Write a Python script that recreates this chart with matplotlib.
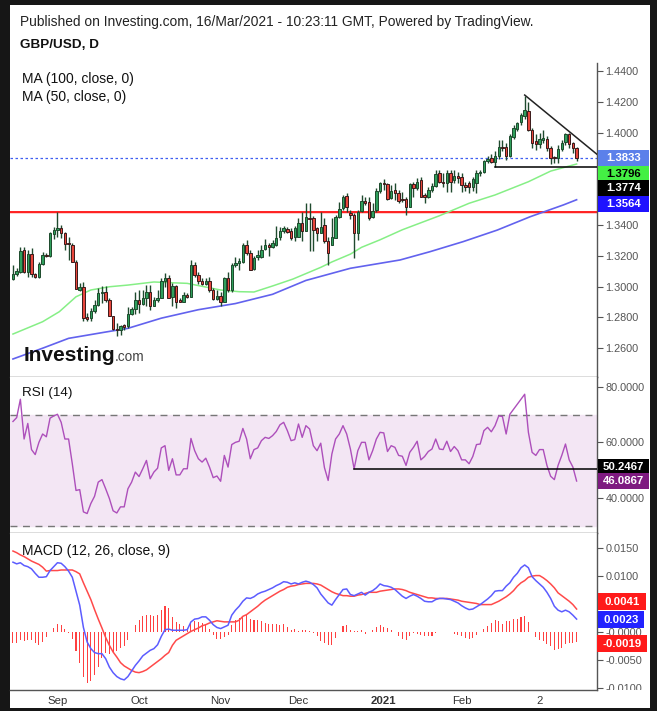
import numpy as np
import pandas as pd
import matplotlib
matplotlib.use("Agg")
import matplotlib.pyplot as plt
from matplotlib.patches import Rectangle
from matplotlib.ticker import FuncFormatter
from matplotlib.transforms import Bbox, TransformedBbox

plt.rcParams['font.family'] = ['Liberation Sans', 'DejaVu Sans']

# ---------------- data ----------------
start_date = '2020-08-14'
opens = [1.3050, 1.3080, 1.3098, 1.3238, 1.3094, 1.3212, 1.3080, 1.3061, 1.3147, 1.3206,
         1.3197, 1.3340, 1.3368, 1.3379, 1.3346, 1.3281, 1.3270, 1.3163, 1.2979, 1.2996,
         1.2800, 1.2795, 1.2843, 1.2882, 1.2957, 1.2968, 1.2914, 1.2806, 1.2724, 1.2720,
         1.2752, 1.2741, 1.2823, 1.2853, 1.2914, 1.2886, 1.2925, 1.2968, 1.2871, 1.2914,
         1.2925, 1.3039, 1.3058, 1.2931, 1.3005, 1.2914, 1.2903, 1.2946, 1.2935, 1.3141,
         1.3076, 1.3037, 1.3017, 1.3037, 1.2979, 1.2918, 1.2940, 1.2903, 1.3054, 1.2979,
         1.3141, 1.3155, 1.3157, 1.3271, 1.3217, 1.3113, 1.3189, 1.3191, 1.3243, 1.3271,
         1.3256, 1.3271, 1.3321, 1.3358, 1.3375, 1.3358, 1.3325, 1.3325, 1.3416, 1.3364,
         1.3444, 1.3444, 1.3379, 1.3351, 1.3401, 1.3297, 1.3271, 1.3314, 1.3455, 1.3509,
         1.3589, 1.3481, 1.3466, 1.3350, 1.3492, 1.3557, 1.3552, 1.3450, 1.3498, 1.3623,
         1.3671, 1.3665, 1.3574, 1.3628, 1.3610, 1.3569, 1.3567, 1.3520, 1.3667, 1.3639,
         1.3692, 1.3595, 1.3585, 1.3628, 1.3654, 1.3736, 1.3682, 1.3671, 1.3736, 1.3692,
         1.3719, 1.3709, 1.3661, 1.3672, 1.3650, 1.3672, 1.3739, 1.3743, 1.3817, 1.3834,
         1.3812, 1.3845, 1.3909, 1.3909, 1.3849, 1.3974, 1.4024, 1.4067, 1.4110, 1.4141,
         1.4017, 1.3946, 1.3925, 1.3953, 1.3959, 1.3899, 1.3842, 1.3834, 1.3894, 1.3937,
         1.3989, 1.3931, 1.3899]
highs = [1.3141, 1.3119, 1.3256, 1.3260, 1.3238, 1.3249, 1.3087, 1.3163, 1.3227, 1.3215,
         1.3357, 1.3389, 1.3482, 1.3400, 1.3357, 1.3325, 1.3281, 1.3173, 1.3022, 1.3033,
         1.2828, 1.2860, 1.2914, 1.2990, 1.3001, 1.3001, 1.2925, 1.2810, 1.2763, 1.2752,
         1.2760, 1.2870, 1.2870, 1.2968, 1.2979, 1.2979, 1.3011, 1.3011, 1.2931, 1.2979,
         1.3054, 1.3087, 1.3076, 1.3022, 1.3011, 1.2925, 1.2968, 1.2957, 1.3173, 1.3162,
         1.3097, 1.3054, 1.3054, 1.3065, 1.2990, 1.2979, 1.2968, 1.3065, 1.3097, 1.3152,
         1.3195, 1.3185, 1.3282, 1.3304, 1.3239, 1.3196, 1.3239, 1.3271, 1.3308, 1.3282,
         1.3304, 1.3394, 1.3390, 1.3394, 1.3390, 1.3379, 1.3394, 1.3444, 1.3487, 1.3541,
         1.3546, 1.3460, 1.3390, 1.3483, 1.3444, 1.3325, 1.3444, 1.3466, 1.3552, 1.3595,
         1.3606, 1.3500, 1.3480, 1.3500, 1.3595, 1.3585, 1.3585, 1.3540, 1.3639, 1.3682,
         1.3697, 1.3671, 1.3660, 1.3671, 1.3628, 1.3617, 1.3585, 1.3671, 1.3682, 1.3703,
         1.3714, 1.3606, 1.3645, 1.3671, 1.3757, 1.3757, 1.3736, 1.3757, 1.3757, 1.3757,
         1.3746, 1.3735, 1.3680, 1.3685, 1.3710, 1.3757, 1.3760, 1.3825, 1.3850, 1.3860,
         1.3880, 1.3950, 1.3950, 1.3930, 1.3990, 1.4050, 1.4070, 1.4130, 1.4240, 1.4200,
         1.4030, 1.3990, 1.4000, 1.4020, 1.3975, 1.3910, 1.3850, 1.3920, 1.3950, 1.4000,
         1.4000, 1.3940, 1.3905]
lows = [1.3044, 1.3072, 1.3087, 1.3087, 1.3065, 1.3065, 1.3055, 1.3055, 1.3141, 1.3190,
        1.3195, 1.3307, 1.3325, 1.3314, 1.3238, 1.3173, 1.3163, 1.2983, 1.2970, 1.2774,
        1.2774, 1.2774, 1.2828, 1.2871, 1.2893, 1.2903, 1.2806, 1.2720, 1.2677, 1.2687,
        1.2720, 1.2730, 1.2817, 1.2823, 1.2827, 1.2881, 1.2871, 1.2849, 1.2871, 1.2903,
        1.2925, 1.3000, 1.2925, 1.2871, 1.2860, 1.2898, 1.2897, 1.2925, 1.2931, 1.3065,
        1.3017, 1.3011, 1.3011, 1.2968, 1.2914, 1.2914, 1.2871, 1.2903, 1.2968, 1.2968,
        1.3130, 1.3109, 1.3152, 1.3206, 1.3109, 1.3109, 1.3174, 1.3185, 1.3239, 1.3196,
        1.3250, 1.3265, 1.3304, 1.3351, 1.3347, 1.3304, 1.3293, 1.3321, 1.3293, 1.3358,
        1.3228, 1.3228, 1.3293, 1.3347, 1.3282, 1.3142, 1.3271, 1.3314, 1.3444, 1.3498,
        1.3487, 1.3440, 1.3188, 1.3300, 1.3487, 1.3530, 1.3433, 1.3444, 1.3487, 1.3606,
        1.3628, 1.3563, 1.3567, 1.3563, 1.3546, 1.3552, 1.3466, 1.3516, 1.3585, 1.3628,
        1.3585, 1.3541, 1.3574, 1.3617, 1.3649, 1.3671, 1.3649, 1.3617, 1.3617, 1.3671,
        1.3671, 1.3617, 1.3620, 1.3605, 1.3620, 1.3607, 1.3720, 1.3735, 1.3800, 1.3800,
        1.3774, 1.3830, 1.3880, 1.3825, 1.3840, 1.3960, 1.4010, 1.4050, 1.4090, 1.4010,
        1.3900, 1.3890, 1.3900, 1.3930, 1.3880, 1.3795, 1.3800, 1.3800, 1.3880, 1.3920,
        1.3900, 1.3870, 1.3815]
closes = [1.3080, 1.3102, 1.3232, 1.3094, 1.3212, 1.3080, 1.3061, 1.3147, 1.3206, 1.3197,
          1.3351, 1.3368, 1.3379, 1.3346, 1.3275, 1.3277, 1.3163, 1.2983, 1.2996, 1.2795,
          1.2791, 1.2843, 1.2882, 1.2957, 1.2968, 1.2914, 1.2806, 1.2724, 1.2720, 1.2746,
          1.2737, 1.2823, 1.2853, 1.2914, 1.2886, 1.2925, 1.2968, 1.2871, 1.2914, 1.2925,
          1.3039, 1.3058, 1.2929, 1.3005, 1.2903, 1.2903, 1.2946, 1.2935, 1.3141, 1.3076,
          1.3037, 1.3017, 1.3037, 1.2979, 1.2918, 1.2940, 1.2903, 1.3054, 1.2979, 1.3141,
          1.3155, 1.3164, 1.3271, 1.3217, 1.3109, 1.3185, 1.3206, 1.3239, 1.3271, 1.3256,
          1.3282, 1.3314, 1.3358, 1.3379, 1.3353, 1.3314, 1.3379, 1.3412, 1.3364, 1.3450,
          1.3437, 1.3368, 1.3351, 1.3390, 1.3293, 1.3217, 1.3321, 1.3455, 1.3502, 1.3584,
          1.3520, 1.3466, 1.3350, 1.3487, 1.3557, 1.3546, 1.3444, 1.3494, 1.3621, 1.3671,
          1.3665, 1.3567, 1.3623, 1.3606, 1.3559, 1.3563, 1.3516, 1.3667, 1.3639, 1.3682,
          1.3585, 1.3585, 1.3628, 1.3654, 1.3731, 1.3682, 1.3671, 1.3736, 1.3682, 1.3719,
          1.3703, 1.3661, 1.3650, 1.3644, 1.3698, 1.3737, 1.3741, 1.3817, 1.3829, 1.3812,
          1.3845, 1.3907, 1.3899, 1.3845, 1.3981, 1.4028, 1.4061, 1.4115, 1.4147, 1.4017,
          1.3931, 1.3924, 1.3959, 1.3963, 1.3899, 1.3838, 1.3834, 1.3894, 1.3931, 1.3989,
          1.3924, 1.3899, 1.3833]

# moving averages read at sample bars (bar index, value)
ma50_idx = [0, 8, 12.5, 17, 21, 26, 31, 38, 47, 56, 61, 65, 70, 75.5, 83, 86, 91, 94, 99,
            105, 115, 123, 130, 139, 145, 152]
ma50_val = [1.2692, 1.2772, 1.2837, 1.2934, 1.2978, 1.2999, 1.3010, 1.3030, 1.3021, 1.2978,
            1.2967, 1.2965, 1.3004, 1.3049, 1.3125, 1.3160, 1.3211, 1.3255, 1.3304,
            1.3369, 1.3460, 1.3541, 1.3595, 1.3681, 1.3750, 1.3796]
ma100_idx = [0, 8, 15, 25, 31, 40, 50, 60, 70, 79, 91, 104.4, 112.5, 121.4, 130.6, 139.5,
             148.4, 152]
ma100_val = [1.2530, 1.2600, 1.2664, 1.2705, 1.2729, 1.2795, 1.2850, 1.2890, 1.2950, 1.3040,
             1.3119, 1.3173, 1.3227, 1.3292, 1.3367, 1.3454, 1.3530, 1.3564]

resistance = 1.3482
support = 1.3774
support_start = 130
trend_x = [138, 157.5]
trend_y = [1.4244, 1.3859]

rsi = [67.5, 68.9, 75.5, 61.2, 66.8, 57.4, 55.6, 60.0, 63.0, 62.0,
       68.7, 69.5, 70.1, 67.2, 61.2, 61.2, 52.3, 42.7, 43.0, 35.0,
       34.4, 38.0, 40.6, 45.7, 46.6, 43.3, 39.8, 35.4, 34.6, 36.8,
       36.8, 43.3, 45.7, 49.3, 47.7, 50.5, 53.5, 46.9, 49.3, 50.7,
       58.0, 58.8, 49.9, 54.1, 48.3, 48.3, 50.5, 50.5, 61.4, 57.0,
       54.1, 52.9, 54.3, 51.1, 47.3, 47.9, 46.0, 55.3, 51.1, 59.2,
       60.0, 60.4, 65.0, 61.2, 54.1, 57.4, 58.0, 60.6, 61.8, 61.4,
       62.4, 63.9, 66.3, 67.2, 64.2, 60.6, 61.0, 66.6, 61.8, 66.0,
       64.8, 58.8, 57.0, 59.7, 50.9, 46.3,
       55.8, 61.2, 63.0, 66.0, 63.0, 57.6, 50.5, 57.0, 60.0, 60.0,
       53.7, 57.0, 61.2, 63.6, 63.4, 56.7, 58.8, 58.2, 55.3, 55.0,
       51.7, 56.4, 58.2, 60.4, 53.7, 54.9, 56.7, 57.6, 61.2, 57.6,
       57.4, 60.4, 56.7, 58.5, 57.0, 53.7, 53.7, 52.3, 54.9, 59.2,
       59.4, 64.2, 65.4, 63.8, 66.0, 69.5, 69.3, 63.0, 70.1, 71.9,
       73.7, 75.5, 77.3, 63.6, 56.4, 55.3, 57.4, 57.4, 51.7, 47.8,
       46.6, 51.7, 55.3, 59.4, 53.7, 51.1, 46.0867]
rsi_level = 50.2467
rsi_level_start = 92

macd = [.0125, .0122, .0124, .0119, .0117, .0113, .0105, .0098, .0098, .0099,
        .0110, .0117, .0124, .0123, .0117, .0109, .0098, .0073, .0048, .0008,
        -.0018, -.0030, -.0037, -.0039, -.0039, -.0048, -.0063, -.0073, -.0080, -.0084,
        -.0086, -.0080, -.0070, -.0060, -.0052, -.0043, -.0038, -.0033, -.0030, -.0023,
        -.0008, .0004, .0005, .0003, .0003, .0003, .0003, .0004, .0018, .0023,
        .0024, .0027, .0027, .0021, .0013, .0008, .0006, .0009, .0012, .0030,
        .0039, .0046, .0055, .0061, .0060, .0063, .0068, .0071, .0073, .0076,
        .0079, .0083, .0086, .0090, .0089, .0086, .0088, .0086, .0089, .0091,
        .0089, .0085, .0079, .0068, .0060, .0052, .0048, .0058, .0067, .0076,
        .0077, .0067, .0065, .0068, .0071, .0066, .0071, .0074, .0079, .0086,
        .0083, .0082, .0080, .0076, .0070, .0064, .0060, .0064, .0067, .0064,
        .0060, .0055, .0054, .0054, .0058, .0060, .0060, .0059, .0058, .0055,
        .0052, .0047, .0043, .0040, .0041, .0045, .0049, .0054, .0059, .0065,
        .0073, .0074, .0074, .0082, .0088, .0098, .0105, .0115, .0120, .0115,
        .0099, .0092, .0086, .0080, .0071, .0060, .0046, .0039, .0036, .0039,
        .0036, .0030, .0023]
signal = [.0145, .0142, .0138, .0135, .0131, .0127, .0124, .0121, .0116, .0109,
          .0110, .0110, .0110, .0111, .0111, .0111, .0111, .0108, .0104, .0088,
          .0073, .0058, .0040, .0023, .0007, -.0010, -.0024, -.0036, -.0045, -.0055,
          -.0061, -.0065, -.0069, -.0072, -.0073, -.0071, -.0068, -.0063, -.0058, -.0053,
          -.0048, -.0042, -.0037, -.0024, -.0015, -.0011, -.0007, -.0003, .0001, .0004,
          .0007, .0011, .0013, .0016, .0018, .0020, .0019, .0018, .0018, .0018,
          .0018, .0021, .0028, .0031, .0036, .0041, .0046, .0052, .0057, .0061,
          .0065, .0069, .0073, .0076, .0080, .0082, .0083, .0085, .0086, .0087,
          .0087, .0087, .0086, .0084, .0080, .0076, .0072, .0069, .0067, .0065,
          .0065, .0064, .0064, .0066, .0067, .0069, .0071, .0071, .0071, .0073,
          .0074, .0075, .0076, .0077, .0077, .0076, .0074, .0071, .0069, .0067,
          .0065, .0063, .0061, .0061, .0060, .0060, .0060, .0060, .0059, .0058,
          .0057, .0055, .0054, .0053, .0052, .0051, .0049, .0049, .0049, .0049,
          .0052, .0055, .0059, .0063, .0068, .0074, .0082, .0088, .0092, .0098,
          .0100, .0101, .0101, .0097, .0092, .0086, .0079, .0070, .0065, .0060,
          .0055, .0049, .0041]
hist_last = -0.0019

price_ticks = [1.26, 1.28, 1.30, 1.32, 1.34, 1.36, 1.38, 1.40, 1.42, 1.44]
price_ticks_hidden = [1.36, 1.38]          # covered by value boxes in the original
rsi_ticks = [40, 60, 80]
macd_ticks = [-0.01, -0.005, 0.0, 0.005, 0.01, 0.015]
macd_ticks_hidden = [0.005]
month_dates = ['2020-09-01', '2020-10-01', '2020-11-02', '2020-12-01', '2021-01-01',
               '2021-02-01', '2021-03-02']
month_labels = ['Sep', 'Oct', 'Nov', 'Dec', '2021', 'Feb', '2']

# ---------------- figure ----------------
W, H = 657, 711
fig = plt.figure(figsize=(W / 100, H / 100), dpi=100, facecolor='#161616')
fig.add_artist(Rectangle((10 / W, 3 / H), 640 / W, 703 / H, transform=fig.transFigure,
                         facecolor='white', edgecolor='none', zorder=0))


def fx(px):
    return px / W


def fy(py):
    return 1 - py / H


def add_ax(top, bottom):
    a = fig.add_axes([fx(10), fy(bottom), (597 - 10) / W, (bottom - top) / H])
    a.set_facecolor('white')
    for s in ['top', 'left']:
        a.spines[s].set_visible(False)
    for s in ['right', 'bottom']:
        a.spines[s].set_color('#555555')
        a.spines[s].set_linewidth(1.0)
    a.set_xlim(-0.8, 157.5)
    a.tick_params(axis='y', right=True, left=False, labelright=True, labelleft=False,
                  direction='out', length=4, width=0.8, color='#555555',
                  labelcolor='#555555', labelsize=7.8, pad=2)
    a.tick_params(axis='x', bottom=False, labelbottom=False)
    return a


def fmt(hidden, zero_text=None):
    def f(v, p):
        if any(abs(v - h) < 1e-9 for h in hidden):
            return ''
        if zero_text is not None and abs(v) < 1e-9:
            return zero_text
        return f'{v:.4f}'
    return FuncFormatter(f)


ax1 = add_ax(63, 377)
ax2 = add_ax(377, 533)
ax3 = add_ax(533, 690)

n = len(closes)
x = np.arange(n)
o = np.array(opens)
c = np.array(closes)
hi = np.array(highs)
lo = np.array(lows)
up = c >= o

# ---- price panel ----
ax1.set_ylim(1.2413, 1.4452)
ax1.set_yticks(price_ticks)
ax1.yaxis.set_major_formatter(fmt(price_ticks_hidden))

ax1.axhline(resistance - 0.0004, color='#ffc4c4', lw=1.2, zorder=1)
ax1.axhline(resistance, color='#ff1010', lw=1.3, zorder=1.5)
ax1.plot(ma100_idx, ma100_val, color='#6262ee', lw=1.2, zorder=1.6)
ax1.plot(ma50_idx, ma50_val, color='#86ef86', lw=1.1, zorder=1.6)
ax1.axhline(c[-1], color='#3f5ff0', lw=0.9, ls=(0, (2, 2)), zorder=1.7)

ax1.vlines(x, lo, hi, color='#1f4a2e', lw=1.0, zorder=2)
body_bottom = np.minimum(o, c)
body_h = np.maximum(np.abs(c - o), 0.00015)
ax1.bar(x, body_h, bottom=body_bottom, width=0.66,
        color=np.where(up, '#2f9f5c', '#e8463c'),
        edgecolor=np.where(up, '#1d4a2c', '#3a1a1a'), linewidth=0.7, zorder=3)

ax1.plot([support_start, 157.5], [support, support], color='black', lw=1.1, zorder=4)
ax1.plot(trend_x, trend_y, color='#222222', lw=1.1, zorder=4)

# ---- RSI panel ----
ax2.set_ylim(27.4, 83.5)
ax2.set_yticks(rsi_ticks)
ax2.yaxis.set_major_formatter(fmt([]))
ax2.axhspan(30, 70, color='#f3e6f4', zorder=0.5)
for lv in (30, 70):
    ax2.axhline(lv, color='#777777', lw=1.0, ls=(0, (5, 4)), zorder=1)
ax2.plot(x, rsi, color='#ad4fbb', lw=1.0, zorder=2)
ax2.plot([rsi_level_start, 157.5], [rsi_level, rsi_level], color='black', lw=1.1, zorder=3)

# ---- MACD panel ----
ax3.set_ylim(-0.01041, 0.01773)
ax3.set_yticks(macd_ticks)
ax3.yaxis.set_major_formatter(fmt(macd_ticks_hidden, zero_text='-0.0000'))
m = np.array(macd)
s = np.array(signal)
hist = m - s
ax3.bar(x, hist, width=0.28, color='#ff4040', zorder=1)
ax3.plot(x, signal, color='#ff4a4a', lw=1.1, zorder=2)
ax3.plot(x, macd, color='#5c5cff', lw=1.1, zorder=3)

# clip the lowest MACD tick label at the panel bottom, as in the original
clip = TransformedBbox(Bbox.from_extents(0, (H - 690) / H, 1, 1), fig.transFigure)
ax3.yaxis.get_major_ticks()[0].label2.set_clip_box(clip)
ax3.yaxis.get_major_ticks()[0].label2.set_clip_on(True)

dates = pd.bdate_range(start_date, periods=n)
tick_pos = dates.get_indexer(pd.to_datetime(month_dates))
ax3.tick_params(axis='x', bottom=True, labelbottom=True, length=0, labelsize=8.2,
                labelcolor='#333333', pad=4.5)
ax3.set_xticks(tick_pos)
ax3.set_xticklabels(month_labels)
for lab in ax3.get_xticklabels():
    if lab.get_text() == '2021':
        lab.set_fontweight('bold')

# ---- right side value boxes ----


def value_box(ax, pos, text, bg, fg, x0=598, x1=649, h=16):
    yd = ax.transData.transform((0, pos))[1]
    fig.add_artist(Rectangle((x0 / W, (yd - h / 2) / H), (x1 - x0) / W, h / H,
                             transform=fig.transFigure, facecolor=bg, edgecolor='none',
                             zorder=5))
    fig.text((x0 + x1) / 2 / W, yd / H, text, ha='center', va='center', color=fg,
             fontsize=8.2, fontweight='bold', zorder=6)


value_box(ax1, 1.3833, f'{c[-1]:.4f}', '#5b80ea', 'white')
value_box(ax1, 1.3730, f'{ma50_val[-1]:.4f}', '#44f044', 'black')
value_box(ax1, 1.3638, f'{support:.4f}', '#000000', 'white')
value_box(ax1, 1.3536, f'{ma100_val[-1]:.4f}', '#1f12ff', 'white')
value_box(ax2, 51.3, f'{rsi_level:.4f}', '#000000', 'white')
value_box(ax2, 46.1, f'{rsi[-1]:.4f}', '#7e1a80', 'white')
value_box(ax3, 0.0054, f'{signal[-1]:.4f}', '#ff1a1a', 'white', x1=646, h=17)
value_box(ax3, 0.0022, f'{macd[-1]:.4f}', '#2222ff', 'white', x1=644, h=17)
value_box(ax3, -0.0021, f'{hist_last:.4f}', '#ff1a1a', 'white', x0=597, x1=647, h=17)

# ---- texts ----
fig.text(fx(20), fy(22), 'Published on Investing.com, 16/Mar/2021 - 10:23:11 GMT, Powered by TradingView.',
         fontsize=9.9, va='center', color='#222222')
fig.text(fx(20), fy(45), 'GBP/USD, D', fontsize=9.7, fontweight='bold', va='center', color='#111111')
fig.text(fx(22), fy(79), 'MA (100, close, 0)', fontsize=10, va='center', color='#111111')
fig.text(fx(22), fy(97), 'MA (50, close, 0)', fontsize=10, va='center', color='#111111')
fig.text(fx(22), fy(393), 'RSI (14)', fontsize=9.7, va='center', color='#111111')
fig.text(fx(22), fy(551), 'MACD (12, 26, close, 9)', fontsize=10, va='center', color='#111111')
fig.text(fx(24), fy(361), 'Investing', fontsize=15, fontweight='bold', va='baseline',
         color='#111111', zorder=6)
fig.text(fx(115), fy(361), '.com', fontsize=9.8, va='baseline', color='#444444', zorder=6)

fig.savefig('out.png', dpi=100, facecolor=fig.get_facecolor())
